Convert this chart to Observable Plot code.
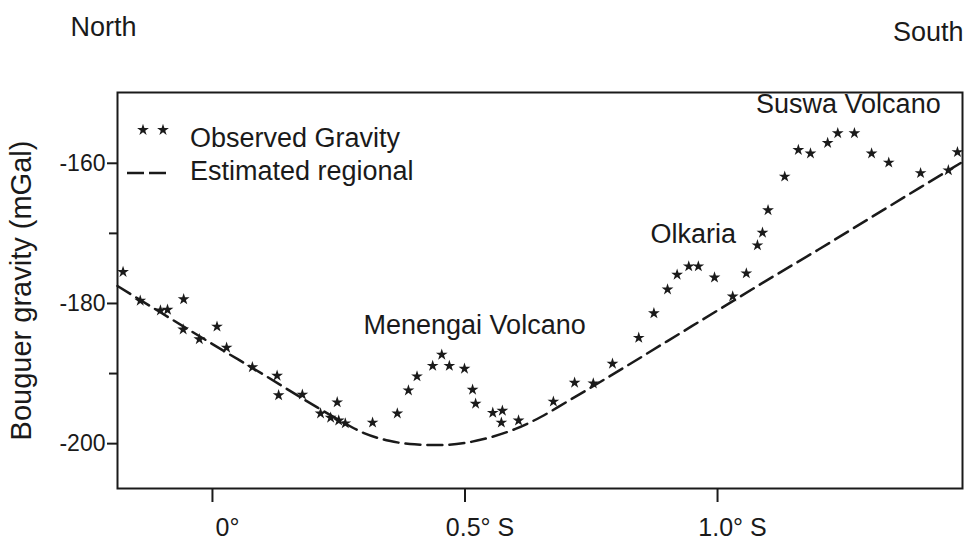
<!DOCTYPE html>
<html>
<head>
<meta charset="utf-8">
<script src="https://cdn.jsdelivr.net/npm/d3@7"></script>
<script src="https://cdn.jsdelivr.net/npm/@observablehq/plot@0.6"></script>
<style>
  body { margin: 0; background: #fff; }
  #chart svg { font-family: "Liberation Sans", Arial, Helvetica, sans-serif; }
</style>
</head>
<body>
<div id="chart"></div>
<script>
// Observed Bouguer gravity along the rift profile (latitude in degrees south, mGal)
const obsLat = [
  -0.177, -0.143, -0.103, -0.089, -0.057, -0.058, -0.026, 0.009, 0.028, 0.079,
  0.128, 0.131, 0.178, 0.214, 0.234, 0.247, 0.250, 0.263, 0.317, 0.366,
  0.388, 0.405, 0.436, 0.454, 0.469, 0.499, 0.515, 0.521, 0.555, 0.572,
  0.574, 0.606, 0.675, 0.717, 0.754, 0.792, 0.844, 0.874, 0.901, 0.920,
  0.943, 0.962, 0.994, 1.030, 1.057, 1.079, 1.089, 1.100, 1.133, 1.160,
  1.184, 1.218, 1.238, 1.271, 1.305, 1.339, 1.402, 1.457, 1.475
];
const obsGravity = [
  -175.5, -179.6, -181.0, -180.9, -179.4, -183.7, -185.1, -183.3, -186.3, -189.1,
  -190.3, -193.1, -193.0, -195.7, -196.3, -194.1, -196.7, -197.1, -197.0, -195.7,
  -192.4, -190.4, -188.9, -187.3, -188.9, -189.3, -192.3, -194.3, -195.6, -197.0,
  -195.3, -196.7, -194.0, -191.3, -191.4, -188.6, -184.9, -181.4, -178.0, -175.9,
  -174.7, -174.7, -176.3, -179.0, -175.7, -171.7, -169.9, -166.7, -161.9, -158.1,
  -158.6, -157.1, -155.7, -155.7, -158.6, -159.9, -161.4, -161.0, -158.4
];

// Estimated regional field
const regLat = [
  -0.188, -0.1, 0, 0.1, 0.2, 0.25, 0.3, 0.35, 0.4, 0.45, 0.5, 0.55,
  0.6, 0.65, 0.7, 0.8, 0.9, 1.0, 1.1, 1.2, 1.3, 1.4, 1.485
];
const regGravity = [
  -177.5, -181.4, -185.8, -190.1, -194.5, -196.6, -198.5, -199.6, -200.1, -200.2, -199.9, -199.1,
  -197.9, -196.2, -194.1, -189.8, -185.4, -181.0, -176.6, -172.3, -167.9, -163.5, -159.8
];

// Axis ticks
const xTicks = [0, 0.5, 1.0];
const xTickLabels = ["0°", "0.5° S", "1.0° S"];
const yMajorTicks = [-200, -180, -160];
const yMinorTicks = [-190, -170];

// Named features along the profile
const featureNames = ["Menengai Volcano", "Olkaria", "Suswa Volcano"];
const featureLat = [0.519, 0.952, 1.259];
const featureGravity = [-183.1, -170.1, -151.6];

const observed = obsLat.map((lat, i) => ({lat, g: obsGravity[i]}));
const regional = regLat.map((lat, i) => ({lat, g: regGravity[i]}));
const features = featureNames.map((name, i) => ({name, lat: featureLat[i], g: featureGravity[i]}));

const ink = "#1a1a1a";
const dash = "15,7";
const starR = 3.7;

// Legend drawn in the top-left corner of the frame
function legend(index, scales, values, dimensions) {
  const {marginLeft: ml, marginTop: mt} = dimensions;
  const g = d3.create("svg:g").attr("fill", ink);
  const star = d3.symbol(d3.symbolStar, starR * starR * Math.PI)();
  for (const dx of [26, 46]) {
    g.append("path").attr("d", star).attr("transform", `translate(${ml + dx},${mt + 38})`);
  }
  g.append("line")
    .attr("x1", ml + 10).attr("x2", ml + 51)
    .attr("y1", mt + 81).attr("y2", mt + 81)
    .attr("stroke", ink).attr("stroke-width", 2.5).attr("stroke-dasharray", "17,5");
  g.append("text").attr("x", ml + 73).attr("y", mt + 55)
    .attr("text-anchor", "start").attr("font-size", 27).text("Observed Gravity");
  g.append("text").attr("x", ml + 73).attr("y", mt + 88)
    .attr("text-anchor", "start").attr("font-size", 27).text("Estimated regional");
  return g.node();
}

const chart = Plot.plot({
  width: 971,
  height: 554,
  marginTop: 92,
  marginLeft: 117,
  marginRight: 9,
  marginBottom: 66,
  style: {background: "#fff", color: ink, overflow: "visible"},
  x: {domain: [-0.188, 1.485]},
  y: {domain: [-206.4, -149.9]},
  marks: [
    Plot.frame({stroke: ink, strokeWidth: 2}),
    // x axis ticks and labels
    Plot.axisX({ticks: xTicks, tickFormat: () => "", tickSize: 14, strokeWidth: 2, label: null}),
    Plot.text(xTicks, {
      x: (d) => d, text: (d, i) => xTickLabels[i], frameAnchor: "bottom",
      lineAnchor: "top", textAnchor: "middle", dy: 30, dx: 15, fontSize: 25, fill: ink
    }),
    // y axis: labelled major ticks and shorter minor ticks
    Plot.axisY({ticks: yMajorTicks, tickFormat: () => "", tickSize: 10, strokeWidth: 2, label: null}),
    Plot.axisY({ticks: yMinorTicks, tickFormat: () => "", tickSize: 8, strokeWidth: 2, label: null}),
    Plot.text(yMajorTicks, {
      y: (d) => d, text: (d) => String(d), frameAnchor: "left",
      textAnchor: "end", lineAnchor: "middle", dx: -12, fontSize: 23, fill: ink
    }),
    Plot.text(["Bouguer gravity (mGal)"], {
      frameAnchor: "left", textAnchor: "middle", lineAnchor: "middle",
      dx: -96, rotate: -90, fontSize: 29, fill: ink
    }),
    Plot.text(["North"], {frameAnchor: "top-left", textAnchor: "start", lineAnchor: "middle", dx: -47, dy: -65, fontSize: 27, fill: ink}),
    Plot.text(["South"], {frameAnchor: "top-right", textAnchor: "end", lineAnchor: "middle", dx: 1, dy: -60, fontSize: 27, fill: ink}),
    // regional field and observations
    Plot.line(regional, {x: "lat", y: "g", stroke: ink, strokeWidth: 2.5, strokeDasharray: dash, curve: "monotone-x"}),
    Plot.dot(observed, {x: "lat", y: "g", symbol: "star", r: starR, fill: ink, stroke: "none"}),
    Plot.text(features, {x: "lat", y: "g", text: "name", fontSize: 27, fill: ink}),
    legend
  ]
});

document.getElementById("chart").append(chart);
</script>
</body>
</html>
